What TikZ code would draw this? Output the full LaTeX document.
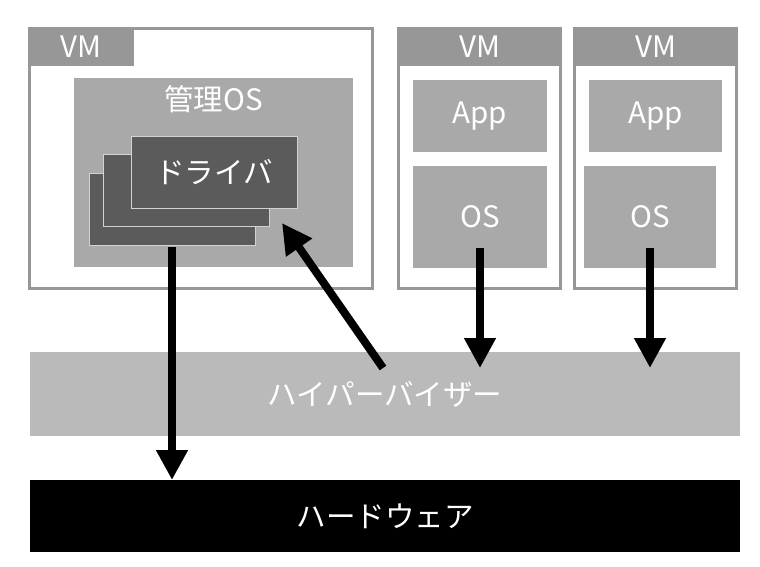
\documentclass[tikz,border=0pt]{standalone}
\usepackage{fontspec}
\setmainfont{Noto Sans CJK JP}
\usetikzlibrary{arrows.meta}

\definecolor{vmgray}{HTML}{979797}
\definecolor{osgray}{HTML}{A9A9A9}
\definecolor{drvgray}{HTML}{5B5B5B}
\definecolor{drvline}{HTML}{D2D2D2}
\definecolor{hvgray}{HTML}{BABABA}

\newcommand{\boxfont}{\fontsize{29.5}{30}\selectfont}

\begin{document}
\begin{tikzpicture}[
    x=1pt,
    y=-1pt,
    vm/.style={
        rectangle,
        draw=vmgray,
        line width=3pt,
        fill=white,
        anchor=north west,
        inner sep=0pt,
        outer sep=0pt
    },
    tab/.style={
        rectangle,
        fill=vmgray,
        anchor=north west,
        inner sep=0pt,
        outer sep=0pt,
        text=white,
        font=\boxfont
    },
    layer/.style={
        rectangle,
        fill=osgray,
        anchor=north west,
        inner sep=0pt,
        outer sep=0pt,
        text=white,
        font=\boxfont
    },
    driver/.style={
        rectangle,
        draw=drvline,
        line width=1pt,
        fill=drvgray,
        anchor=north west,
        inner sep=0pt,
        outer sep=0pt,
        minimum width=166,
        minimum height=72,
        text=white,
        font=\boxfont
    },
    base/.style={
        rectangle,
        anchor=north west,
        inner sep=0pt,
        outer sep=0pt,
        minimum width=710,
        text=white,
        font=\boxfont
    },
    arrow/.style={
        -{Triangle[length=30pt,width=30pt]},
        line width=8pt
    }
]
\useasboundingbox (0,0) rectangle (760,566);

% Management VM
\node[vm, minimum width=343, minimum height=260] (vm1) at (29.5,28.5) {};
\node[tab, minimum width=106, minimum height=39] (tab1) at (28,27) {VM};
\node[layer, minimum width=279, minimum height=189] (mgmt) at (74,78) {};
\node[text=white, font=\boxfont] (mgmtlabel) at (213.5,99) {管理OS};

% Drivers
\node[driver] (drv3) at (89,173) {};
\node[driver] (drv2) at (103,154) {};
\node[driver] (drv1) at (131,136) {ドライバ};

% Guest VMs
\node[vm, minimum width=162, minimum height=260] (vm2) at (398.5,28.5) {};
\node[tab, minimum width=165, minimum height=39] (tab2) at (397,27) {VM};
\node[layer, minimum width=134, minimum height=72] (app2) at (413,80) {App};
\node[layer, minimum width=134, minimum height=102] (os2) at (413,166) {OS};

\node[vm, minimum width=162, minimum height=260] (vm3) at (574.5,28.5) {};
\node[tab, minimum width=165, minimum height=39] (tab3) at (573,27) {VM};
\node[layer, minimum width=133, minimum height=72] (app3) at (589,80) {App};
\node[layer, minimum width=132, minimum height=102] (os3) at (584,166) {OS};

% Hypervisor and hardware
\node[base, fill=hvgray, minimum height=84] (hyp) at (30,352) {ハイパーバイザー};
\node[base, fill=black, minimum height=72] (hw) at (30,480) {ハードウェア};

% Arrows
\draw[arrow] ([yshift=-2pt]drv3.south) -- (drv3.south |- hw.north);
\draw[arrow] ([yshift=20pt]os2.south) -- ([yshift=-16pt]os2.south |- hyp.north);
\draw[arrow] ([yshift=20pt]os3.south) -- ([yshift=-16pt]os3.south |- hyp.north);
\draw[arrow] ([shift={(-2pt,-16pt)}]hyp.north) -- ([shift={(-15pt,-15pt)}]drv1.south east);

\end{tikzpicture}
\end{document}
